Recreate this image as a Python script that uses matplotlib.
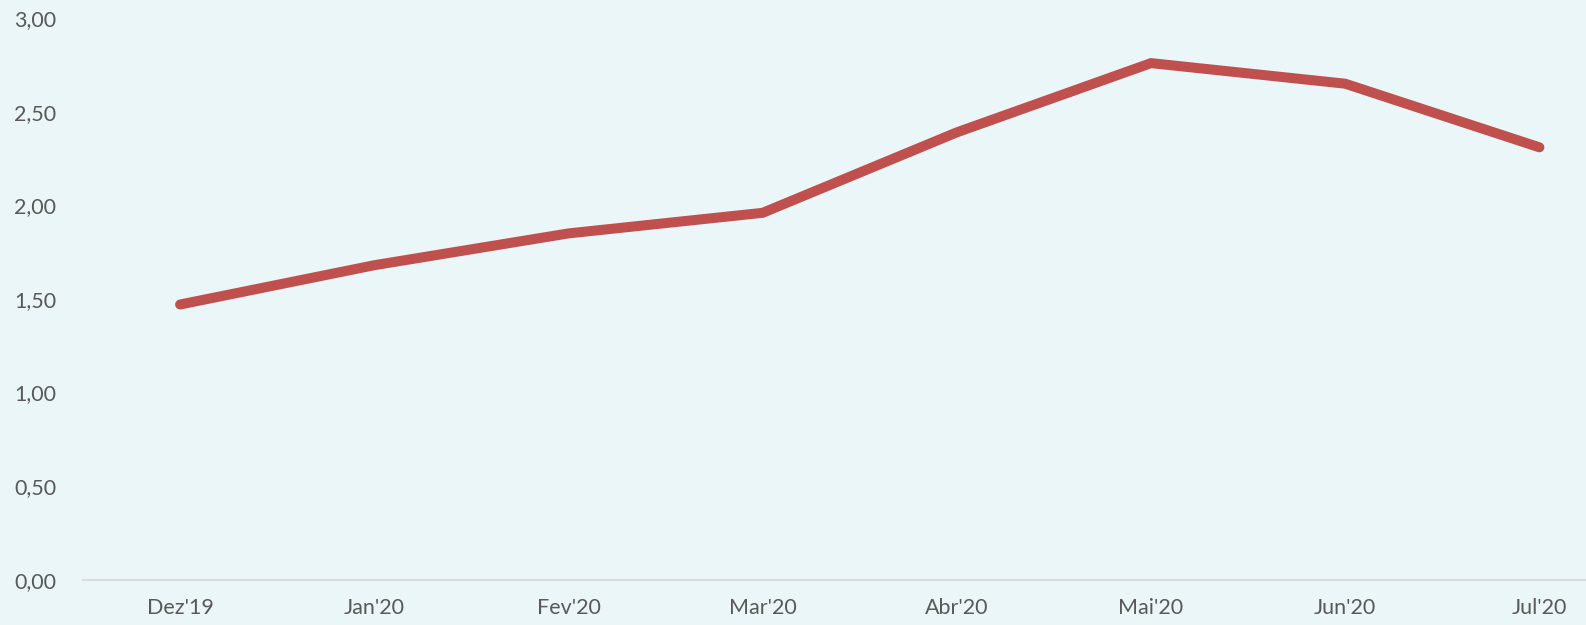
import matplotlib
matplotlib.use("Agg")
import matplotlib.pyplot as plt

months = ["Dez'19", "Jan'20", "Fev'20", "Mar'20", "Abr'20", "Mai'20", "Jun'20", "Jul'20"]
values = [1.47, 1.68, 1.85, 1.96, 2.39, 2.76, 2.65, 2.31]
y_ticks = [0.0, 0.5, 1.0, 1.5, 2.0, 2.5, 3.0]

bg = "#EAF6F8"
text_color = "#595959"

plt.rcParams["font.family"] = ["Lato", "DejaVu Sans"]

fig = plt.figure(figsize=(15.86, 6.25), dpi=100, facecolor=bg)
ax = fig.add_axes([83 / 1586, 45.4 / 625, 1 - 83 / 1586, (579.6 - 18.2) / 625])
ax.set_facecolor(bg)

x = list(range(len(months)))
ax.plot(x, values, color="#C0504D", linewidth=7.2,
        solid_capstyle="round", solid_joinstyle="miter")

ax.set_xlim(-0.5, 7.24)
ax.set_ylim(0, 3)
ax.set_xticks(x, months)
ax.set_yticks(y_ticks, [f"{v:.2f}".replace(".", ",") for v in y_ticks])

for side in ["top", "right", "left"]:
    ax.spines[side].set_visible(False)
ax.spines["bottom"].set_color("#D9D9D9")
ax.spines["bottom"].set_linewidth(1.3)

ax.tick_params(axis="both", length=0, labelsize=15.5, labelcolor=text_color)
ax.tick_params(axis="x", pad=13)
ax.tick_params(axis="y", pad=49.5)
for lbl in ax.get_yticklabels():
    lbl.set_horizontalalignment("left")

fig.savefig("out.png", dpi=100, facecolor=bg)
